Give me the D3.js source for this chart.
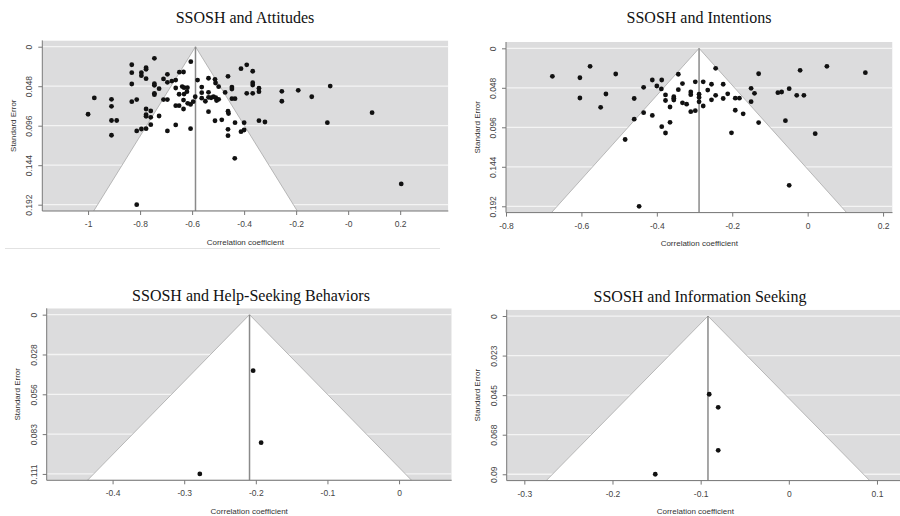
<!DOCTYPE html>
<html><head><meta charset="utf-8">
<script src="https://cdn.jsdelivr.net/npm/d3@7"></script>
<style>body{margin:0;background:#fff;} svg{display:block;}</style>
</head><body><svg id="c" width="900" height="516"></svg>
<script>
// ---------- DATA ----------
const titles = ["SSOSH and Attitudes", "SSOSH and Intentions", "SSOSH and Help-Seeking Behaviors", "SSOSH and Information Seeking"];
const xAxisTitle = "Correlation coefficient";
const yAxisTitle = "Standard Error";

const attitudesR = [-1.000,-0.976,-0.910,-0.910,-0.910,-0.890,-0.910,-0.832,-0.832,-0.832,-0.832,-0.813,-0.813,-0.813,-0.795,-0.795,-0.795,-0.777,-0.777,-0.777,-0.777,-0.777,-0.777,-0.777,-0.759,-0.759,-0.759,-0.745,-0.745,-0.745,-0.745,-0.745,-0.727,-0.727,-0.710,-0.710,-0.695,-0.695,-0.695,-0.695,-0.678,-0.663,-0.663,-0.663,-0.663,-0.649,-0.633,-0.638,-0.631,-0.618,-0.620,-0.650,-0.631,-0.633,-0.617,-0.650,-0.633,-0.606,-0.605,-0.606,-0.588,-0.596,-0.579,-0.563,-0.563,-0.563,-0.549,-0.537,-0.537,-0.537,-0.527,-0.518,-0.509,-0.506,-0.498,-0.512,-0.510,-0.498,-0.537,-0.512,-0.486,-0.473,-0.462,-0.447,-0.447,-0.447,-0.435,-0.462,-0.460,-0.435,-0.462,-0.462,-0.436,-0.412,-0.390,-0.367,-0.367,-0.367,-0.367,-0.390,-0.343,-0.343,-0.412,-0.400,-0.400,-0.343,-0.320,-0.255,-0.255,-0.192,-0.140,-0.069,-0.080,0.092,0.204];
const attitudesSE = [0.0821,0.0623,0.0639,0.0724,0.0897,0.0897,0.1076,0.0219,0.0316,0.0453,0.0668,0.0642,0.1024,0.192,0.0316,0.0352,0.1000,0.0255,0.0275,0.0389,0.0757,0.0826,0.0846,0.0996,0.0781,0.0858,0.0948,0.0141,0.0450,0.0469,0.0566,0.0583,0.0510,0.0842,0.0392,0.0642,0.0642,0.0335,0.0433,0.1024,0.0417,0.0405,0.0502,0.0717,0.0951,0.0310,0.0307,0.0484,0.0498,0.0498,0.0547,0.0578,0.0575,0.0648,0.0688,0.0717,0.0757,0.0702,0.0182,0.0996,0.0608,0.0668,0.0405,0.0490,0.0559,0.0626,0.0663,0.0383,0.0554,0.0615,0.0620,0.0608,0.0620,0.0654,0.0639,0.0396,0.0441,0.0486,0.0790,0.0900,0.0888,0.0556,0.0360,0.0490,0.0514,0.0632,0.0632,0.0784,0.0812,0.0923,0.1004,0.1081,0.1356,0.0267,0.0220,0.0298,0.0437,0.0465,0.0566,0.0566,0.0505,0.0547,0.1033,0.1012,0.0923,0.0899,0.0915,0.0542,0.0663,0.0530,0.0608,0.0478,0.0923,0.0802,0.1668];

const intentionsR = [-0.677,-0.604,-0.604,-0.577,-0.549,-0.535,-0.509,-0.484,-0.460,-0.460,-0.435,-0.435,-0.412,-0.412,-0.400,-0.387,-0.388,-0.387,-0.377,-0.377,-0.377,-0.365,-0.365,-0.355,-0.355,-0.355,-0.343,-0.343,-0.332,-0.332,-0.321,-0.310,-0.310,-0.310,-0.298,-0.298,-0.288,-0.288,-0.288,-0.277,-0.277,-0.265,-0.255,-0.255,-0.244,-0.244,-0.224,-0.224,-0.212,-0.192,-0.181,-0.192,-0.171,-0.202,-0.150,-0.141,-0.150,-0.130,-0.130,-0.079,-0.069,-0.049,-0.029,-0.010,-0.020,-0.059,0.020,0.051,0.153,-0.049,-0.447];
const intentionsSE = [0.0340,0.0358,0.0604,0.0219,0.0717,0.0555,0.0312,0.1108,0.0610,0.0861,0.0474,0.0782,0.0385,0.0816,0.0458,0.0385,0.0494,0.0953,0.0567,0.0634,0.1029,0.0713,0.0899,0.0588,0.0608,0.0628,0.0315,0.0503,0.0428,0.0662,0.0679,0.0531,0.0564,0.0770,0.0758,0.0407,0.0558,0.0598,0.0650,0.0407,0.0701,0.0507,0.0437,0.0626,0.0243,0.0571,0.0437,0.0610,0.0553,0.0606,0.0606,0.0753,0.0796,0.1027,0.0486,0.0547,0.0649,0.0309,0.0902,0.0539,0.0531,0.0491,0.0571,0.0571,0.0267,0.0880,0.1038,0.0219,0.0296,0.1665,0.192];

const helpR = [-0.2038, -0.1926, -0.2782];
const helpSE = [0.0390, 0.0892, 0.111];

const infoR = [-0.0903, -0.0801, -0.0801, -0.1515];
const infoSE = [0.0445, 0.0519, 0.0764, 0.090];

const pooledEstimates = [-0.587, -0.288, -0.2088, -0.0917];
const maxSE = [0.192, 0.192, 0.111, 0.090];

const xTickValues = [
  [-1, -0.8, -0.6, -0.4, -0.2, 0, 0.2],
  [-0.8, -0.6, -0.4, -0.2, 0, 0.2],
  [-0.4, -0.3, -0.2, -0.1, 0],
  [-0.3, -0.2, -0.1, 0, 0.1]
];
const xTickLabels = [
  ["-1", "-0.8", "-0.6", "-0.4", "-0.2", "-0", "0.2"],
  ["-0.8", "-0.6", "-0.4", "-0.2", "0", "0.2"],
  ["-0.4", "-0.3", "-0.2", "-0.1", "0"],
  ["-0.3", "-0.2", "-0.1", "0", "0.1"]
];
const yTickLabels = [
  ["0", "0.048", "0.096", "0.144", "0.192"],
  ["0", "0.048", "0.096", "0.144", "0.192"],
  ["0", "0.028", "0.056", "0.083", "0.111"],
  ["0", "0.023", "0.045", "0.068", "0.09"]
];

// ---------- LAYOUT ----------
const layout = [
  {left:42.3, right:448.3, top:40.4, bottom:211, xDom:[-1.176, 0.385], titleX:245, titleY:23, xTitleY:244.5, yTitleX:13, sep:true},
  {left:506, right:892.5, top:42, bottom:212.6, xDom:[-0.8, 0.225], titleX:699, titleY:23, xTitleY:246, yTitleX:477},
  {left:46.7, right:451.7, top:308.3, bottom:480.3, xDom:[-0.492, 0.0735], titleX:251, titleY:301, xTitleY:514, yTitleX:17},
  {left:506.7, right:909.6, top:309.7, bottom:480.6, xDom:[-0.320, 0.137], titleX:700, titleY:302, xTitleY:514, yTitleX:477}
];
const seriesR = [attitudesR, intentionsR, helpR, infoR];
const seriesSE = [attitudesSE, intentionsSE, helpSE, infoSE];

const svg = d3.select("#c");
const BG = "#dcdcdd";

layout.forEach((L, i) => {
  const mx = maxSE[i];
  const x = d3.scaleLinear().domain(L.xDom).range([L.left, L.right]);
  const y = d3.scaleLinear().domain([-0.04 * mx, 1.04 * mx]).range([L.top, L.bottom]);
  const g = svg.append("g");
  const clipId = "clip" + i;
  g.append("clipPath").attr("id", clipId).append("rect")
    .attr("x", L.left).attr("y", L.top).attr("width", L.right - L.left).attr("height", L.bottom - L.top);
  const pg = g.append("g").attr("clip-path", `url(#${clipId})`);

  // background
  pg.append("rect").attr("x", L.left).attr("y", L.top).attr("width", L.right - L.left).attr("height", L.bottom - L.top).attr("fill", BG);
  const yTicks = [0, mx / 4, mx / 2, 3 * mx / 4, mx];
  // white grid lines
  pg.selectAll("line.grid").data(yTicks).join("line")
    .attr("x1", L.left).attr("x2", L.right)
    .attr("y1", d => y(d)).attr("y2", d => y(d))
    .attr("stroke", "#f4f4f4").attr("stroke-width", 1.3);
  // funnel
  const c = pooledEstimates[i];
  const yb = 1.04 * mx;
  const poly = [[c - 1.96 * yb, yb], [c, 0], [c + 1.96 * yb, yb]];
  pg.append("path")
    .attr("d", d3.line().x(d => x(d[0])).y(d => y(d[1]))(poly) + "Z")
    .attr("fill", "#ffffff").attr("stroke", "#a8a8a8").attr("stroke-width", 0.8);
  // reference line
  pg.append("line").attr("x1", x(c)).attr("x2", x(c)).attr("y1", y(0)).attr("y2", y(yb))
    .attr("stroke", "#8a8a8a").attr("stroke-width", 1.5);
  // points
  pg.selectAll("circle").data(seriesR[i].map((r, k) => [r, seriesSE[i][k]])).join("circle")
    .attr("cx", d => x(d[0])).attr("cy", d => y(d[1])).attr("r", 2.4).attr("fill", "#111");

  // axes
  const xa = d3.axisBottom(x).tickValues(xTickValues[i]).tickFormat((d, k) => xTickLabels[i][k]).tickSize(4).tickPadding(6);
  const gx = g.append("g").attr("transform", `translate(0,${L.bottom})`).call(xa);
  gx.select(".domain").remove();
  gx.selectAll("line").attr("stroke", "#777");
  gx.selectAll("text").attr("fill", "#444").attr("font-family", "Liberation Sans, Arial, sans-serif").attr("font-size", 8.5);

  const ya = d3.axisLeft(y).tickValues(yTicks).tickFormat((d, k) => yTickLabels[i][k]).tickSize(4);
  const gy = g.append("g").attr("transform", `translate(${L.left},0)`).call(ya);
  gy.select(".domain").remove();
  gy.selectAll("line").attr("stroke", "#777");
  gy.selectAll("text")
    .attr("fill", "#444").attr("font-family", "Liberation Sans, Arial, sans-serif").attr("font-size", 8.5)
    .attr("text-anchor", "middle").attr("x", 0).attr("y", -13).attr("dy", "0.35em")
    .attr("transform", "rotate(-90)");

  // L-shaped box
  g.append("path").attr("d", `M${L.left},${L.top}V${L.bottom}H${L.right}`)
    .attr("fill", "none").attr("stroke", "#777").attr("stroke-width", 1);

  // titles
  g.append("text").attr("x", L.titleX).attr("y", L.titleY).attr("text-anchor", "middle")
    .attr("font-family", "Liberation Serif, Times New Roman, serif").attr("font-size", 16).attr("fill", "#111")
    .text(titles[i]);
  g.append("text").attr("x", (L.left + Math.min(L.right, 900)) / 2 + (i === 3 ? -8 : 0)).attr("y", L.xTitleY).attr("text-anchor", "middle")
    .attr("font-family", "Liberation Sans, Arial, sans-serif").attr("font-size", 8).attr("fill", "#333")
    .text(xAxisTitle);
  g.append("text").attr("transform", `translate(${L.yTitleX},${(L.top + L.bottom) / 2}) rotate(-90)`)
    .attr("text-anchor", "middle").attr("dy", "0.35em")
    .attr("font-family", "Liberation Sans, Arial, sans-serif").attr("font-size", 8).attr("fill", "#333")
    .text(yAxisTitle);

  if (L.sep) {
    g.append("line").attr("x1", 5).attr("x2", 440).attr("y1", 248.5).attr("y2", 248.5)
      .attr("stroke", "#e2e2e2").attr("stroke-width", 1);
  }
});
</script>
</body></html>
